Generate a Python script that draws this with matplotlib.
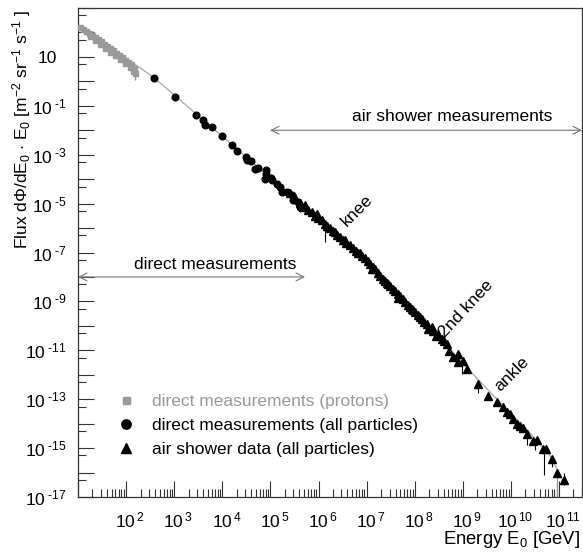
import numpy as np
import matplotlib
matplotlib.use("Agg")
import matplotlib.pyplot as plt
from matplotlib.ticker import FixedLocator, FuncFormatter, LogLocator, NullFormatter
from matplotlib.transforms import ScaledTranslation

plt.rcParams["font.family"] = ["Liberation Sans", "DejaVu Sans"]
plt.rcParams["mathtext.fontset"] = "custom"
plt.rcParams["mathtext.rm"] = "Liberation Sans"
plt.rcParams["mathtext.it"] = "Liberation Sans:italic"
plt.rcParams["mathtext.bf"] = "Liberation Sans:bold"

# values, stored as log10(E/GeV) and log10(flux*E)
proton_logE = [1.042, 1.104, 1.166, 1.229, 1.291, 1.353, 1.416, 1.478, 1.541, 1.603,
               1.665, 1.728, 1.790, 1.852, 1.915, 1.977, 2.040, 2.102, 2.164,
               1.249, 1.353, 1.457, 1.561, 1.665, 1.769, 1.873, 1.977, 2.081, 2.143, 2.185]
proton_logF = [2.221, 2.139, 2.057, 1.975, 1.893, 1.812, 1.730, 1.648, 1.525, 1.443,
               1.361, 1.279, 1.156, 1.074, 0.992, 0.869, 0.787, 0.705, 0.541,
               1.852, 1.689, 1.525, 1.361, 1.197, 1.074, 0.910, 0.746, 0.582, 0.418, 0.336]

direct_logE = [2.580, 3.023, 3.459, 3.605, 3.634, 3.780, 3.994, 4.202, 4.306, 4.499,
               4.520, 4.590, 4.674, 4.742, 4.902, 4.915, 4.881, 5.006, 5.131, 5.033,
               5.200, 5.241, 5.345, 5.449, 5.470, 5.574, 5.616]
direct_logF = [0.144, -0.647, -1.356, -1.590, -1.766, -1.877, -2.217, -2.614, -2.860, -3.094,
               -3.200, -3.258, -3.569, -3.545, -3.639, -3.803, -3.979, -3.938, -4.184, -4.049,
               -4.335, -4.540, -4.540, -4.663, -4.868, -4.950, -5.155]

shower_logE = [5.407, 5.511, 5.616, 5.678, 5.782, 5.865, 5.927, 5.990, 6.067, 6.135,
               6.177, 6.239, 6.301, 6.378, 6.447, 6.516, 6.572, 6.655, 6.724, 6.780,
               6.827, 6.904, 6.967, 7.029, 7.071, 7.133, 7.175, 7.237, 7.279, 7.341,
               7.383, 7.445, 7.486, 7.549, 7.590, 7.653, 7.694, 7.757, 7.798, 7.861,
               7.902, 7.965, 8.006, 8.069, 8.110, 8.193, 8.250, 8.283, 8.354, 8.387,
               8.491, 8.562, 8.665, 8.719, 8.790, 8.906, 8.906, 9.010, 9.081, 9.322,
               9.530, 9.705, 9.842, 9.919, 9.981, 10.044, 10.121, 10.189, 10.258, 10.328,
               10.466, 10.536, 10.673, 10.730, 10.848, 10.952, 11.104,
               5.719, 5.969, 6.343, 6.551, 6.863, 7.112, 7.424, 7.653, 7.944, 8.152,
               8.443, 8.609]
shower_logF = [-4.581, -4.786, -4.991, -5.155, -5.278, -5.360, -5.524, -5.606, -5.688, -5.852,
               -5.934, -6.016, -6.139, -6.302, -6.384, -6.507, -6.630, -6.712, -6.835, -6.958,
               -7.040, -7.163, -7.245, -7.368, -7.450, -7.573, -7.655, -7.819, -7.942, -8.065,
               -8.147, -8.270, -8.351, -8.474, -8.556, -8.679, -8.761, -8.884, -9.036, -9.130,
               -9.241, -9.335, -9.446, -9.540, -9.650, -9.827, -9.921, -10.126, -10.060, -10.196,
               -10.331, -10.536, -10.741, -11.015, -11.261, -11.150, -11.494, -11.425, -11.765, -12.380,
               -12.859, -13.134, -13.339, -13.515, -13.609, -13.802, -14.019, -14.089, -14.158, -14.429,
               -14.703, -14.675, -15.044, -15.044, -15.453, -16.002, -16.302,
               -5.073, -5.442, -6.180, -6.507, -7.000, -7.655, -8.229, -8.843, -9.294, -9.704,
               -10.400, -10.605]

# error bars (black) and the long grey one at the cutoff
err_logE = [5.616, 6.135, 8.977, 9.316, 10.328, 10.501, 10.688, 10.848, 11.104]
err_lo = [-5.360, -6.589, -11.958, -12.736, -14.867, -15.072, -16.097, -15.769, -16.506]
err_hi = [-4.950, -5.893, -11.507, -12.245, -14.335, -14.621, -14.949, -15.318, -16.015]
grey_err_logE = [2.185, 10.952]
grey_err_lo = [0.049, -17.0]
grey_err_hi = [0.336, -15.851]

# grey guide line through the spectrum
fit_logE = [1.021, 1.998, 2.580, 5.137, 6.239, 7.279, 8.110, 9.087, 9.836, 10.397, 10.813, 11.062]
fit_logF = [2.221, 0.951, 0.152, -4.172, -5.975, -7.901, -9.622, -11.712, -13.269, -14.376, -15.318, -16.261]

x_label_exps = [2, 3, 4, 5, 6, 7, 8, 9, 10, 11]
y_label_exps = [1, -1, -3, -5, -7, -9, -11, -13, -15, -17]

pw = lambda v: 10.0 ** np.asarray(v)

fig = plt.figure(figsize=(5.83, 5.59), dpi=100)
ax = fig.add_axes([78 / 583, 62 / 559, 504 / 583, 489 / 559])

ax.plot(pw(fit_logE), pw(fit_logF), color="#b0b0b0", lw=1.0, zorder=1)
ax.vlines(pw(grey_err_logE), pw(grey_err_lo), pw(grey_err_hi), color="#999999", lw=1.0, zorder=2)
ax.vlines(pw(err_logE), pw(err_lo), pw(err_hi), color="black", lw=0.8, zorder=2)

h1, = ax.plot(pw(proton_logE), pw(proton_logF), ls="none", marker="s", ms=3.6,
              color="#999999", mec="#999999", zorder=3, label="direct measurements (protons)")
h2, = ax.plot(pw(direct_logE), pw(direct_logF), ls="none", marker="o", ms=4.8,
              color="black", zorder=4, label="direct measurements (all particles)")
h3, = ax.plot(pw(shower_logE), pw(shower_logF), ls="none", marker="^", ms=5.4,
              color="black", zorder=4, label="air shower data (all particles)")

ax.set_xscale("log")
ax.set_yscale("log")
ax.set_xlim(10 ** 1, 10 ** 11.478)
ax.set_ylim(1e-17, 1e3)

# ticks: inward, ROOT-like
ax.xaxis.set_major_locator(LogLocator(base=10, numticks=30))
ax.xaxis.set_minor_locator(LogLocator(base=10, subs=np.arange(2, 10), numticks=300))
ax.xaxis.set_minor_formatter(NullFormatter())


def xfmt(v, pos):
    e = int(round(np.log10(v)))
    if e in x_label_exps:
        return r"$\mathregular{10^{\,%d}}$" % e
    return ""


def yfmt(v, pos):
    e = int(round(np.log10(v)))
    if e not in y_label_exps:
        return ""
    if e == 1:
        return "10"
    return r"$\mathregular{10^{\text{ %d}}}$" % e


ax.xaxis.set_major_formatter(FuncFormatter(xfmt))
ax.yaxis.set_major_locator(FixedLocator(10.0 ** np.arange(-17, 4)))
ax.yaxis.set_minor_locator(FixedLocator(0.5 * 10.0 ** np.arange(-16, 4)))
ax.yaxis.set_major_formatter(FuncFormatter(yfmt))
ax.yaxis.set_minor_formatter(NullFormatter())

ax.tick_params(which="both", direction="in", color="#333333", width=0.8)
ax.tick_params(which="major", length=11.5, labelsize=12.5)
ax.tick_params(which="minor", length=5.8)
ax.tick_params(axis="x", which="major", pad=10)
ax.tick_params(axis="y", which="major", pad=8)
for s in ax.spines.values():
    s.set_color("#333333")
    s.set_linewidth(0.9)

# axis titles
fig.text(22 / 583, 1 - 10 / 559,
         r"Flux d$\Phi$/dE$\mathregular{_0}$ $\cdot$ E$\mathregular{_0}$ "
         r"[m$\mathregular{^{-2}}$ sr$\mathregular{^{-1}}$ s$\mathregular{^{-1}}$ ]",
         rotation=90, ha="center", va="top", fontsize=12.5)
fig.text(580 / 583, 1 - 540 / 559, r"Energy E$\mathregular{_0}$ [GeV]",
         ha="right", va="center", fontsize=13.3)

# range arrows
arrow_kw = dict(arrowstyle="<->", color="#777777", lw=0.8, mutation_scale=14,
                shrinkA=0, shrinkB=0)
ax.annotate("", xy=(10 ** 4.992, 1e-2), xytext=(10 ** 11.478, 1e-2), arrowprops=arrow_kw)
ax.annotate("", xy=(10 ** 1, 1e-8), xytext=(10 ** 5.72, 1e-8), arrowprops=arrow_kw)
ax.text(0.742, 0.779, "air shower measurements", transform=ax.transAxes,
        ha="center", va="center", fontsize=12.5)
ax.text(0.272, 0.476, "direct measurements", transform=ax.transAxes,
        ha="center", va="center", fontsize=12.5)

ax.text(0.554, 0.585, "knee", transform=ax.transAxes, rotation=45,
        ha="center", va="center", fontsize=12.5)
ax.text(0.770, 0.386, "2nd knee", transform=ax.transAxes, rotation=47,
        ha="center", va="center", fontsize=12.5)
ax.text(0.861, 0.252, "ankle", transform=ax.transAxes, rotation=45,
        ha="center", va="center", fontsize=12.5)

leg = ax.legend(handles=[h1, h2, h3], loc="lower left", bbox_to_anchor=(0.078, 0.082),
                frameon=False, fontsize=12.5, numpoints=1, handlelength=1.0,
                handletextpad=1.0, labelspacing=0.5, borderpad=0, borderaxespad=0,
                markerscale=1.4)
leg.get_texts()[0].set_color("#999999")

# shift tick labels: "10" on the x tick with exponent to the right,
# and the plain "10" on the y axis sits further left like the others' base
fig.canvas.draw()
shift_x = ScaledTranslation(4 / 100, 0, fig.dpi_scale_trans)
for lab in ax.get_xticklabels():
    lab.set_transform(lab.get_transform() + shift_x)
shift_y = ScaledTranslation(-10 / 100, 0, fig.dpi_scale_trans)
for lab in ax.get_yticklabels():
    if lab.get_text() == "10":
        lab.set_transform(lab.get_transform() + shift_y)

fig.savefig("out.png", dpi=100)
